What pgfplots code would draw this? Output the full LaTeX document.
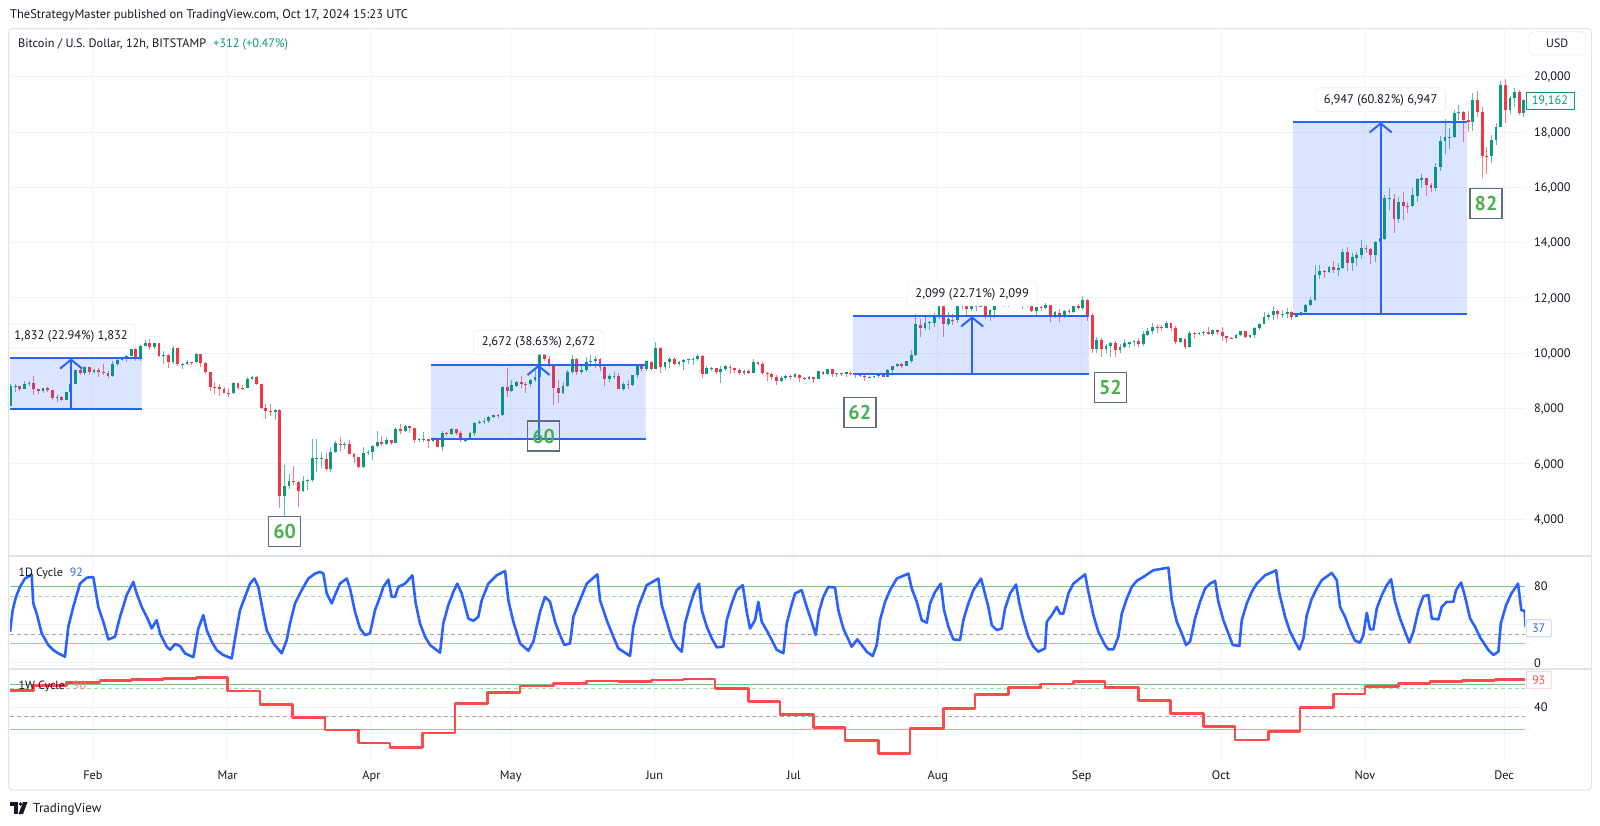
\documentclass[border=0pt]{standalone}
\usepackage{fontspec}
\setmainfont{PT Sans}
\usepackage{pgfplots}
\pgfplotsset{compat=1.18}
\usepackage{pgfplotstable}
\usetikzlibrary{arrows.meta}
\definecolor{txt}{HTML}{131722}
\definecolor{gridc}{HTML}{F0F3FA}
\definecolor{framec}{HTML}{E0E3EB}
\definecolor{upc}{HTML}{089981}
\definecolor{dnc}{HTML}{F23645}
\definecolor{tvblue}{HTML}{2962FF}
\definecolor{tvred}{HTML}{FF4B4B}
\definecolor{lvgreen}{HTML}{7BC17E}
\definecolor{lvgreend}{HTML}{A5D6A7}
\definecolor{lvgray}{HTML}{A0A3AB}
\definecolor{lvred}{HTML}{F7A1A1}
\definecolor{cntgreen}{HTML}{4CAF50}
\definecolor{slate}{HTML}{5D6D7E}
\newcommand{\fs}[1]{\fontsize{#1}{#1}\selectfont}

\pgfplotstableread{
d o h l c
13.25 8110 8880 8100 8810
14.25 8810 8900 8590 8820
15.25 8820 8830 8620 8720
16.25 8720 9000 8700 8900
17.25 8900 9010 8820 8910
18.25 8910 9190 8480 8700
19.25 8700 8720 8520 8630
20.25 8630 8760 8550 8740
21.25 8740 8790 8610 8660
22.25 8660 8670 8300 8390
23.25 8390 8500 8230 8430
24.25 8430 8440 8280 8330
25.25 8330 8600 8300 8590
26.25 8590 8970 8570 8900
27.25 8900 9400 8880 9390
28.25 9390 9430 9230 9290
29.25 9290 9550 9200 9500
30.25 9500 9520 9230 9340
31.25 9340 9430 9300 9380
32.25 9380 9470 9150 9340
33.25 9340 9600 9230 9290
34.25 9290 9350 9110 9180
35.25 9180 9720 9160 9620
36.25 9620 9830 9540 9760
37.25 9760 9870 9730 9800
38.25 9800 9940 9670 9900
39.25 9900 10170 9890 10160
40.25 10160 10180 9740 9860
41.25 9860 10290 9730 10270
42.25 10270 10480 10260 10360
43.25 10360 10530 10110 10240
44.25 10240 10390 10170 10360
45.25 10360 10380 9860 9900
46.25 9900 10070 9600 9930
47.25 9930 9970 9460 9700
48.25 9700 10250 9620 10180
49.25 10180 10190 9550 9600
50.25 9600 9650 9420 9610
51.25 9610 9750 9560 9690
52.25 9690 9700 9570 9670
53.25 9670 10020 9660 9960
54.25 9960 9990 9520 9660
55.25 9660 9670 9270 9310
56.25 9310 9330 8630 8790
57.25 8790 8950 8540 8780
58.25 8780 8890 8450 8700
59.25 8700 8800 8550 8560
60.25 8560 8740 8430 8550
61.25 8550 8970 8530 8910
62.25 8910 8920 8660 8760
63.25 8760 8840 8680 8750
64.25 8750 9140 8750 9070
65.25 9070 9170 9020 9150
66.25 9150 9190 8850 8900
67.25 8900 8900 8000 8040
68.25 8040 8180 7640 7930
69.25 7930 8150 7750 7890
70.25 7890 7990 7600 7950
71.25 7950 7970 4400 4830
72.25 4830 5950 4100 5200
73.25 5200 5640 5090 5390
74.25 5390 5940 5250 5360
75.25 5360 5370 4450 5020
76.25 5020 5550 4970 5370
77.25 5370 5450 5060 5410
78.25 5410 6900 5360 6190
79.25 6190 6900 5700 6190
80.25 6190 6440 5850 6190
81.25 6190 6400 5760 5830
82.25 5830 6600 5700 6420
83.25 6420 6840 6380 6740
84.25 6740 6960 6470 6680
85.25 6680 6790 6540 6730
86.25 6730 6850 6350 6370
87.25 6370 6380 6040 6250
88.25 6250 6260 5870 5880
89.25 5880 6600 5860 6400
90.25 6400 6520 6330 6420
91.25 6420 6680 6160 6640
92.25 6640 7180 6600 6790
93.25 6790 7000 6640 6730
94.25 6730 6980 6690 6860
95.25 6860 6880 6680 6770
96.25 6770 7350 6770 7270
97.25 7270 7450 7090 7180
98.25 7180 7420 7150 7360
99.25 7360 7370 7120 7290
100.25 7290 7300 6760 6870
101.25 6870 6940 6790 6880
102.25 6880 7170 6810 6900
103.25 6900 6910 6560 6840
104.25 6840 6970 6780 6860
105.25 6860 6920 6610 6630
106.25 6630 7190 6480 7120
107.25 7120 7150 7000 7100
108.25 7100 7310 7060 7260
109.25 7260 7270 7060 7130
110.25 7130 7210 6800 6850
111.25 6850 6950 6800 6860
112.25 6860 7150 6850 7120
113.25 7120 7530 7020 7480
114.25 7480 7590 7460 7510
115.25 7510 7660 7440 7540
116.25 7540 7720 7490 7700
117.25 7700 7780 7660 7770
118.25 7770 7800 7650 7760
119.25 7760 8830 7740 8780
120.25 8780 9460 8430 8620
121.25 8620 9050 8610 8830
122.25 8830 9000 8780 8970
123.25 8970 9180 8750 8900
124.25 8900 8950 8560 8880
125.25 8880 9080 8800 9030
126.25 9030 9400 8950 9150
127.25 9150 9990 9030 9980
128.25 9980 10070 9740 9810
129.25 9810 9920 9520 9540
130.25 9540 9580 8120 8730
131.25 8730 9050 8200 8560
132.25 8560 8950 8530 8820
133.25 8820 9390 8800 9310
134.25 9310 9930 9270 9790
135.25 9790 9840 9200 9320
136.25 9320 9590 9240 9380
137.25 9380 9880 9340 9680
138.25 9680 9950 9490 9730
139.25 9730 9900 9460 9780
140.25 9780 9830 9350 9510
141.25 9510 9560 8830 9060
142.25 9060 9260 8950 9170
143.25 9170 9310 9080 9180
144.25 9180 9300 8700 8720
145.25 8720 8980 8640 8900
146.25 8900 9020 8700 8840
147.25 8840 9220 8810 9200
148.25 9200 9620 9110 9570
149.25 9570 9600 9340 9430
150.25 9430 9740 9360 9700
151.25 9700 9710 9400 9450
152.25 9450 10420 9420 10200
153.25 10200 10230 9280 9520
154.25 9520 9690 9390 9670
155.25 9670 9880 9480 9790
156.25 9790 9850 9590 9620
157.25 9620 9730 9530 9670
158.25 9670 9800 9380 9760
159.25 9760 9800 9630 9780
160.25 9780 9880 9570 9780
161.25 9780 9990 9710 9890
162.25 9890 9940 9110 9270
163.25 9270 9550 9240 9470
164.25 9470 9490 9350 9470
165.25 9470 9480 9260 9340
166.25 9340 9530 8910 9430
167.25 9430 9580 9370 9520
168.25 9520 9560 9250 9460
169.25 9460 9480 9280 9380
170.25 9380 9460 9200 9300
171.25 9300 9400 9220 9360
172.25 9360 9420 9270 9290
173.25 9290 9780 9280 9680
174.25 9680 9700 9580 9630
175.25 9630 9670 9230 9300
176.25 9300 9320 9010 9250
177.25 9250 9280 9040 9160
178.25 9160 9200 8850 9000
179.25 9000 9170 8950 9110
180.25 9110 9230 9020 9190
181.25 9190 9200 9080 9140
182.25 9140 9300 9100 9230
183.25 9230 9260 8950 9090
184.25 9090 9130 9050 9060
185.25 9060 9190 9050 9130
186.25 9130 9140 8920 9070
187.25 9070 9360 9060 9340
188.25 9340 9360 9210 9250
189.25 9250 9450 9230 9430
190.25 9430 9440 9150 9240
191.25 9240 9300 9130 9290
192.25 9290 9300 9190 9240
193.25 9240 9340 9160 9300
194.25 9300 9350 9200 9240
195.25 9240 9280 9120 9250
196.25 9250 9270 9160 9190
197.25 9190 9210 9010 9130
198.25 9130 9180 9090 9150
199.25 9150 9190 9120 9170
200.25 9170 9230 9120 9210
201.25 9210 9220 9130 9160
202.25 9160 9420 9150 9390
203.25 9390 9540 9290 9530
204.25 9530 9650 9510 9610
205.25 9610 9640 9480 9550
206.25 9550 9740 9530 9710
207.25 9710 10110 9650 9930
208.25 9930 11410 9920 11040
209.25 11040 11240 10580 10930
210.25 10930 11340 10860 11100
211.25 11100 11170 10840 11110
212.25 11110 11450 10960 11350
213.25 11350 11870 11230 11800
214.25 11800 12090 10600 11070
215.25 11070 11480 11000 11220
216.25 11220 11420 11020 11190
217.25 11190 11790 11100 11740
218.25 11740 11900 11600 11770
219.25 11770 11920 11380 11600
220.25 11600 11800 11540 11760
221.25 11760 11810 11540 11680
222.25 11680 12050 11660 11880
223.25 11880 11950 11250 11390
224.25 11390 11620 11170 11570
225.25 11570 11790 11290 11780
226.25 11780 12000 11720 11770
227.25 11770 11970 11690 11860
228.25 11860 11930 11680 11910
229.25 11910 12470 11780 12290
230.25 12290 12380 11830 11960
231.25 11960 12020 11600 11760
232.25 11760 11900 11680 11870
233.25 11870 11880 11500 11530
234.25 11530 11690 11380 11680
235.25 11680 11710 11520 11650
236.25 11650 11830 11600 11750
237.25 11750 11760 11140 11330
238.25 11330 11530 11270 11470
239.25 11470 11590 11150 11320
240.25 11320 11550 11280 11540
241.25 11540 11590 11420 11480
242.25 11480 11720 11460 11700
243.25 11700 11780 11580 11650
244.25 11650 12080 11580 11920
245.25 11920 11950 11160 11390
246.25 11390 11460 10000 10170
247.25 10170 10580 10010 10470
248.25 10470 10560 9880 10170
249.25 10170 10350 10000 10260
250.25 10260 10400 9880 10370
251.25 10370 10440 9850 10120
252.25 10120 10350 10000 10230
253.25 10230 10500 10200 10350
254.25 10350 10410 10200 10400
255.25 10400 10480 10280 10440
256.25 10440 10560 10230 10330
257.25 10330 10790 10260 10680
258.25 10680 10930 10630 10790
259.25 10790 11100 10690 10950
260.25 10950 11040 10750 10940
261.25 10940 11040 10810 10930
262.25 10930 11170 10900 11080
263.25 11080 11090 10790 10920
264.25 10920 10990 10350 10420
265.25 10420 10570 10370 10530
266.25 10530 10540 10150 10240
267.25 10240 10790 10200 10740
268.25 10740 10760 10570 10690
269.25 10690 10780 10650 10730
270.25 10730 10800 10620 10770
271.25 10770 10950 10650 10690
272.25 10690 10860 10640 10840
273.25 10840 10850 10670 10780
274.25 10780 10950 10440 10620
275.25 10620 10630 10370 10570
276.25 10570 10600 10500 10550
277.25 10550 10690 10530 10670
278.25 10670 10800 10640 10790
279.25 10790 10800 10540 10600
280.25 10600 10680 10560 10670
281.25 10670 10950 10550 10920
282.25 10920 11110 10830 11060
283.25 11060 11480 11050 11300
284.25 11300 11440 11220 11380
285.25 11380 11720 11200 11540
286.25 11540 11560 11240 11430
287.25 11430 11560 11280 11430
288.25 11430 11630 11270 11500
289.25 11500 11540 11220 11320
290.25 11320 11400 11300 11370
291.25 11370 11510 11350 11500
292.25 11500 11800 11420 11750
293.25 11750 12030 11700 11920
294.25 11920 13200 11890 12820
295.25 12820 13190 12700 12970
296.25 12970 13030 12730 12930
297.25 12930 13160 12890 13120
298.25 13120 13340 12920 13030
299.25 13030 13250 12790 13070
300.25 13070 13770 13040 13650
301.25 13650 13860 12970 13280
302.25 13280 13630 12990 13460
303.25 13460 13660 13150 13560
304.25 13560 14080 13420 13800
305.25 13800 13900 13640 13760
306.25 13760 13820 13220 13550
307.25 13550 14060 13300 14030
308.25 14030 14240 13540 14150
309.25 14150 15740 14100 15590
310.25 15590 15960 15180 15590
311.25 15590 15760 14350 14840
312.25 14840 15660 14710 15480
313.25 15480 15830 14830 15330
314.25 15330 15460 15090 15310
315.25 15310 15960 15290 15700
316.25 15700 16340 15470 16280
317.25 16280 16480 15960 16320
318.25 16320 16330 15700 16070
319.25 16070 16140 15820 15970
320.25 15970 16880 15880 16730
321.25 16730 17850 16580 17680
322.25 17680 18480 17220 17800
323.25 17800 18130 17380 17820
324.25 17820 18790 17780 18680
325.25 18680 18970 18420 18710
326.25 18710 18760 17640 18420
327.25 18420 18760 18000 18370
328.25 18370 19410 18030 19160
329.25 19160 19500 18560 18730
330.25 18730 18920 16330 17150
331.25 17150 17450 16500 17140
332.25 17140 17880 16880 17720
333.25 17720 18340 17520 18180
334.25 18180 19860 18170 19700
335.25 19700 19920 18330 18800
336.25 18800 19310 18650 19220
337.25 19220 19590 18920 19440
338.25 19440 19530 18600 18700
339.25 18700 19180 18560 19160
}\btc

\pgfplotsset{tvaxis/.style={
  scale only axis, width=1515pt, xmin=13.14, xmax=339.5,
  axis line style={draw=none}, major tick length=0pt,
  xtick={31,60,91,121,152,182,213,244,274,305,335},
  xmajorgrids, ymajorgrids,
  major grid style={draw=gridc, line width=1pt},
  yticklabel pos=right, scaled y ticks=false,
  tick label style={font=\fs{12.3}, text=txt},
  yticklabel style={anchor=base west, inner sep=0pt, xshift=9pt, yshift=-4.3pt},
}}

\newcommand{\measure}[6]{%
  \fill[tvblue, fill opacity=0.16] (axis cs:#1,#4) rectangle (axis cs:#2,#5);
  \draw[tvblue, line width=2pt] (axis cs:#1,#4) -- (axis cs:#2,#4);
  \draw[tvblue, line width=2pt] (axis cs:#1,#5) -- (axis cs:#2,#5);
  \draw[tvblue, line width=2pt, -{Straight Barb[length=9pt, width=22pt, line width=2pt]}] (axis cs:#3,#4) -- (axis cs:#3,#5);
  \node[fill=white, draw=framec, rounded corners=3pt, font=\fs{12.5}, text=txt, minimum height=24pt, inner xsep=8pt, anchor=south] at ([yshift=10pt]axis cs:#3,#5) {#6};
}
\newcommand{\cnt}[3]{%
  \node[draw=slate, line width=1.6pt, text=cntgreen, font=\bfseries\fs{20}, minimum width=32pt, minimum height=30pt, inner sep=0pt] at (axis cs:#1,#2) {#3};
}

\begin{document}
\begin{tikzpicture}
\path[use as bounding box, fill=white] (0pt,0pt) rectangle (1600pt,-825pt);
\draw[framec, line width=1pt, rounded corners=4pt] (8.5pt,-28.5pt) rectangle (1591.5pt,-790pt);

% ---------- price pane ----------
\begin{axis}[tvaxis, at={(10pt,-556pt)}, anchor=south west, height=527pt,
  ymin=2673, ymax=21724,
  ytick={4000,6000,8000,10000,12000,14000,16000,18000,20000},
  yticklabels={{4,000},{6,000},{8,000},{10,000},{12,000},{14,000},{16,000},{18,000},{20,000}},
  xticklabels={}]
% wicks
\addplot[draw=none, mark=none, x filter/.expression={\thisrow{c}<\thisrow{o} ? nan : x},
  error bars/.cd, y dir=plus, y explicit, error mark=none,
  error bar style={draw=upc!65, line width=0.8pt}]
  table[x=d, y=l, y error expr=\thisrow{h}-\thisrow{l}] {\btc};
\addplot[draw=none, mark=none, x filter/.expression={\thisrow{c}<\thisrow{o} ? x : nan},
  error bars/.cd, y dir=plus, y explicit, error mark=none,
  error bar style={draw=dnc!65, line width=0.8pt}]
  table[x=d, y=l, y error expr=\thisrow{h}-\thisrow{l}] {\btc};
% bodies
\addplot[draw=none, mark=none, x filter/.expression={\thisrow{c}<\thisrow{o} ? nan : x},
  error bars/.cd, y dir=plus, y explicit, error mark=none,
  error bar style={draw=upc, line width=2.8pt}]
  table[x=d, y=o, y error expr=\thisrow{c}-\thisrow{o}+8] {\btc};
\addplot[draw=none, mark=none, x filter/.expression={\thisrow{c}<\thisrow{o} ? x : nan},
  error bars/.cd, y dir=plus, y explicit, error mark=none,
  error bar style={draw=dnc, line width=2.8pt}]
  table[x=d, y=c, y error expr=\thisrow{o}-\thisrow{c}] {\btc};
% measure drawings
\measure{13.14}{41.6}{26.3}{7986}{9818}{1,832 (22.94\%) 1,832}
\measure{103.8}{150.1}{127.0}{6917}{9589}{2,672 (38.63\%) 2,672}
\measure{194.8}{245.6}{220.4}{9243}{11342}{2,099 (22.71\%) 2,099}
\measure{289.5}{327.1}{308.4}{11410}{18357}{6,947 (60.82\%) 6,947}
% cycle counts
\cnt{72.3}{3554}{60}
\cnt{128.1}{7010}{60}
\cnt{196.2}{7867}{62}
\cnt{250.2}{8771}{52}
\cnt{331.1}{15416}{82}
\end{axis}

% ---------- 1D cycle pane ----------
\begin{axis}[tvaxis, at={(10pt,-669pt)}, anchor=south west, height=113pt,
  ymin=-6.3, ymax=111.9, ytick={0,40,80}, yticklabels={0,{},80}, xticklabels={}]
\addplot[lvgreen, line width=1pt] coordinates {(13.14,80) (339.5,80)};
\addplot[lvgreend, line width=1pt, dash pattern=on 4pt off 3pt] coordinates {(13.14,70) (339.5,70)};
\addplot[lvgray, line width=1pt, dash pattern=on 4pt off 3pt] coordinates {(13.14,30) (339.5,30)};
\addplot[lvred, line width=1pt] coordinates {(13.14,20) (339.5,20)};
\addplot[tvblue, line width=2.6pt, line join=round] coordinates {
(13.14,32.6) (13.72,55.3) (14.43,69.2) (15.29,79.6) (16.37,88.3) (17.81,92.4) (18.16,62.3) (18.89,51.7) (19.97,31) (21.39,18.8) (22.47,13.5) (23.54,10.1) (24.98,6.6) (25.70,37.9) (26.77,58.7) (28.22,83) (29.66,89.2) (31.08,89.9) (32.16,58.7) (33.24,43.1) (34.32,24.7) (35.76,27.5) (36.84,48.3) (38.28,71) (39.70,84.9) (40.43,72.7) (41.51,58.7) (42.93,44.8) (43.66,36.1) (44.74,44.8) (45.45,31) (46.89,17.1) (47.61,13.7) (48.69,19.9) (49.76,17.8) (50.84,10.1) (52.63,6.0) (53.71,36.1) (54.79,50) (55.52,34.4) (56.60,22.2) (57.67,13.5) (59.09,8.3) (60.90,4.8) (61.98,36.1) (62.69,55.2) (63.77,69.2) (64.84,83) (65.77,88.3) (66.63,79.6) (67.71,51.7) (68.44,34.4) (69.86,20.5) (71.67,10.1) (72.75,24) (73.46,41.4) (74.54,62.3) (75.98,76.2) (77.40,88.3) (78.85,93.5) (79.92,95.3) (80.64,93.5) (81.37,72.7) (82.45,62.3) (83.15,71) (84.23,83.2) (85.68,88.3) (86.39,77.9) (87.46,53.5) (88.54,36.1) (89.62,29.2) (90.69,31) (91.77,55.3) (92.85,69.2) (93.56,79.6) (94.64,87.2) (95.37,69.2) (96.08,69.2) (96.79,79.6) (98.24,83) (99.81,91.7) (100.54,62.2) (101.46,41.4) (102.54,27.5) (103.62,18.8) (105.77,10.8) (106.48,41.4) (107.56,60.5) (108.64,74.4) (109.50,83) (110.45,72.7) (111.87,46.6) (112.95,44.1) (114.02,48.3) (114.76,65.6) (116.18,83) (117.99,91.7) (119.78,96.3) (120.49,65.6) (121.57,43.1) (123.01,20.5) (124.80,12.9) (125.88,22.3) (127.32,53.5) (128.39,69.2) (129.47,64) (130.55,43.1) (131.62,29.2) (132.55,18.8) (133.78,20.5) (134.49,48.3) (135.93,65.6) (137.37,83) (139.66,92.7) (140.24,65.6) (141.68,44.8) (143.10,27.5) (144.18,15.3) (146.70,7.3) (147.42,37.9) (148.49,58.7) (150.30,81.4) (152.80,88.3) (153.53,60.5) (154.61,43.1) (155.69,25.8) (156.76,17.1) (157.84,11.8) (158.55,41.4) (159.63,60.5) (160.71,76.2) (161.57,83) (162.15,55.3) (163.23,38) (164.31,25.8) (165.38,16.4) (166.80,17.1) (167.54,44.8) (168.61,62.2) (169.69,76.2) (170.98,81.4) (171.84,53.5) (172.56,36.1) (173.63,44.8) (174.34,63.9) (175.08,43.1) (176.50,31) (178.31,13.7) (179.73,10.2) (180.46,41.4) (181.54,61.4) (182.25,72.7) (183.68,76.2) (184.76,58.7) (185.83,43.1) (186.70,29.2) (187.41,53.5) (188.34,69.2) (189.41,79.6) (190.86,79) (191.57,55.3) (192.65,36.1) (194.45,17) (195.66,24.7) (196.61,18.8) (197.69,11.8) (198.98,7.3) (199.84,18.8) (200.56,44.8) (201.64,64) (202.71,76.2) (204.16,88.3) (206.66,93.5) (207.39,77.9) (208.47,64) (209.54,44.8) (210.62,42.1) (211.33,62.3) (212.41,74.4) (213.64,83) (214.35,55.3) (215.28,38) (216.35,24.7) (217.79,24) (218.50,44.8) (219.58,62.3) (220.66,76.2) (222.32,88.3) (222.96,76.2) (223.89,58.7) (224.62,39.6) (225.70,34.4) (226.78,36.1) (227.49,57) (228.57,72.7) (229.86,82.1) (230.57,62.3) (231.43,44.8) (232.51,27.5) (233.59,17.1) (234.66,11.8) (236.11,15.3) (236.47,43.1) (237.55,50) (238.63,58.7) (239.34,51.7) (240.05,51.7) (241.13,72.7) (242.21,83) (244.73,92.7) (245.44,74.4) (246.52,50) (247.59,32.7) (249.03,18.8) (249.74,14.2) (250.82,14.2) (251.90,27.5) (252.63,51.7) (253.71,67.3) (254.78,79.6) (255.86,85.9) (257.28,90) (259.44,97) (262.67,99.7) (263.40,65.6) (264.48,43.1) (265.55,31) (266.48,18.8) (267.34,22.3) (268.42,46.6) (269.50,64) (270.57,77.9) (271.65,83) (272.73,85.9) (273.44,64) (274.52,44.8) (275.59,31) (276.54,18.8) (277.96,17.8) (278.48,44.8) (279.56,62.3) (280.63,74.4) (281.71,83) (283.50,91.7) (285.87,96.9) (286.51,74.4) (287.81,48.3) (288.88,32.7) (289.96,22.3) (290.89,14.2) (291.75,25.7) (292.48,50) (293.56,67.3) (294.64,77.9) (295.71,86.6) (297.87,94.2) (298.94,86.6) (299.66,58.7) (300.73,48.3) (301.81,34.4) (302.89,23.3) (303.96,21.2) (304.67,29.2) (305.41,52.5) (306.12,35.2) (306.83,35.2) (307.56,57) (308.64,71) (309.72,81.4) (310.64,87.6) (311.50,64) (312.58,46.6) (313.66,32.7) (314.58,21.2) (315.45,32.7) (316.52,55.3) (317.60,69.9) (318.68,71) (319.41,46.6) (320.83,45.5) (321.56,58.7) (322.64,64) (324.06,64) (324.64,76.2) (325.72,84.2) (326.58,69.2) (327.66,46.6) (328.74,37.9) (329.81,26.8) (330.89,18.8) (331.60,13.6) (332.68,8.4) (333.76,11.8) (334.28,41.4) (335.42,60.5) (336.56,72.7) (337.99,83) (338.70,55.3) (339.42,54.6) (339.64,37)
};
\end{axis}

% ---------- 1W cycle pane ----------
\begin{axis}[tvaxis, at={(10pt,-762pt)}, anchor=south west, height=93pt,
  ymode=log, ymin=7.39, ymax=128.4, ytick={40}, yticklabels={40},
  xticklabels={Feb,Mar,Apr,May,Jun,Jul,Aug,Sep,Oct,Nov,Dec},
  xticklabel style={anchor=base, inner sep=0pt, yshift=-17.7pt}]
\addplot[lvgreen, line width=1pt] coordinates {(13.14,80) (339.5,80)};
\addplot[lvgreend, line width=1pt, dash pattern=on 4pt off 3pt] coordinates {(13.14,70) (339.5,70)};
\addplot[lvgray, line width=1pt, dash pattern=on 4pt off 3pt] coordinates {(13.14,30) (339.5,30)};
\addplot[lvred, line width=1pt] coordinates {(13.14,20) (339.5,20)};
\addplot[tvred, line width=2.6pt, const plot, line join=round] coordinates {
(13.14,66) (18.15,76.9) (25.35,84.4) (32.53,89.6) (39.36,93.5) (46.17,96.6) (53.36,98.4) (60.04,65.3) (67.00,43.4) (74.04,29.2) (81.00,19.7) (88.17,13.3) (94.99,11.6) (102.05,17.9) (109.00,44.8) (115.96,62) (123.00,76.1) (130.18,82.8) (137.37,88.8) (144.18,88) (151.37,91.4) (158.18,94.4) (165.01,71) (172.19,47) (179.01,32) (186.19,21.2) (193.01,14.2) (200.19,9.6) (207.02,20.8) (214.19,38) (221.02,59) (228.19,73.2) (235.17,81) (242.19,86.9) (249.03,73.2) (256.20,48.5) (263.18,33) (270.21,21.9) (277.04,14.5) (284.21,18.8) (291.04,39.6) (298.22,59.6) (305.04,74.7) (312.22,81.8) (319.03,86.9) (326.07,91) (333.03,93.6) (339.64,93.6)
};
\end{axis}

% pane separators
\draw[framec, line width=1.2pt] (8.5pt,-556pt) -- (1591.5pt,-556pt);
\draw[framec, line width=1.2pt] (8.5pt,-669pt) -- (1591.5pt,-669pt);

% texts
\node[anchor=base west, inner sep=0pt, font=\fs{12.5}, text=txt] at (10pt,-18.5pt) {TheStrategyMaster published on TradingView.com, Oct 17, 2024 15:23 UTC};
\node[anchor=base west, inner sep=0pt, font=\fs{12.3}, text=txt] at (18pt,-47.3pt) {Bitcoin / U.S. Dollar, 12h, BITSTAMP\hspace{7pt}\textcolor{upc}{+312 (+0.47\%)}};
\node[anchor=base west, inner sep=0pt, font=\fs{12}, text=txt] at (18.3pt,-576.5pt) {1D Cycle\hspace{7pt}\textcolor{tvblue}{92}};
\node[anchor=base west, inner sep=0pt, font=\fs{12}, text=txt] at (18.3pt,-689.2pt) {1W Cycle\hspace{8pt}\textcolor{tvred!70}{90}};

% right-scale labels
\node[draw=framec, rounded corners=4pt, minimum width=56pt, minimum height=23pt, inner sep=0pt, anchor=north west, font=\fs{12}, text=txt] at (1529pt,-31.7pt) {USD};
\node[draw=upc, fill=white, text=upc, font=\fs{12.3}, minimum width=48pt, minimum height=17pt, inner sep=0pt, anchor=west] at (1525.7pt,-100.7pt) {19,162};
\node[draw=tvblue!60, fill=white, text=tvblue, font=\fs{12.3}, minimum width=25pt, minimum height=17pt, inner sep=0pt, anchor=west, rounded corners=1pt] at (1526pt,-628.3pt) {37};
\node[draw=tvred!60, fill=white, text=tvred, font=\fs{12.3}, minimum width=25pt, minimum height=17pt, inner sep=0pt, anchor=west, rounded corners=1pt] at (1526pt,-680pt) {93};

% footer logo
\fill[txt] (10pt,-802pt) rectangle (17.5pt,-805.5pt);
\fill[txt] (14pt,-802pt) rectangle (17.5pt,-814pt);
\fill[txt] (20.5pt,-804pt) circle (1.8pt);
\fill[txt] (23pt,-802pt) -- (27.5pt,-802pt) -- (23pt,-814pt) -- (18.5pt,-814pt) -- cycle;
\node[anchor=base west, inner sep=0pt, font=\fs{13}, text=txt] at (33pt,-812.5pt) {TradingView};
\end{tikzpicture}
\end{document}
